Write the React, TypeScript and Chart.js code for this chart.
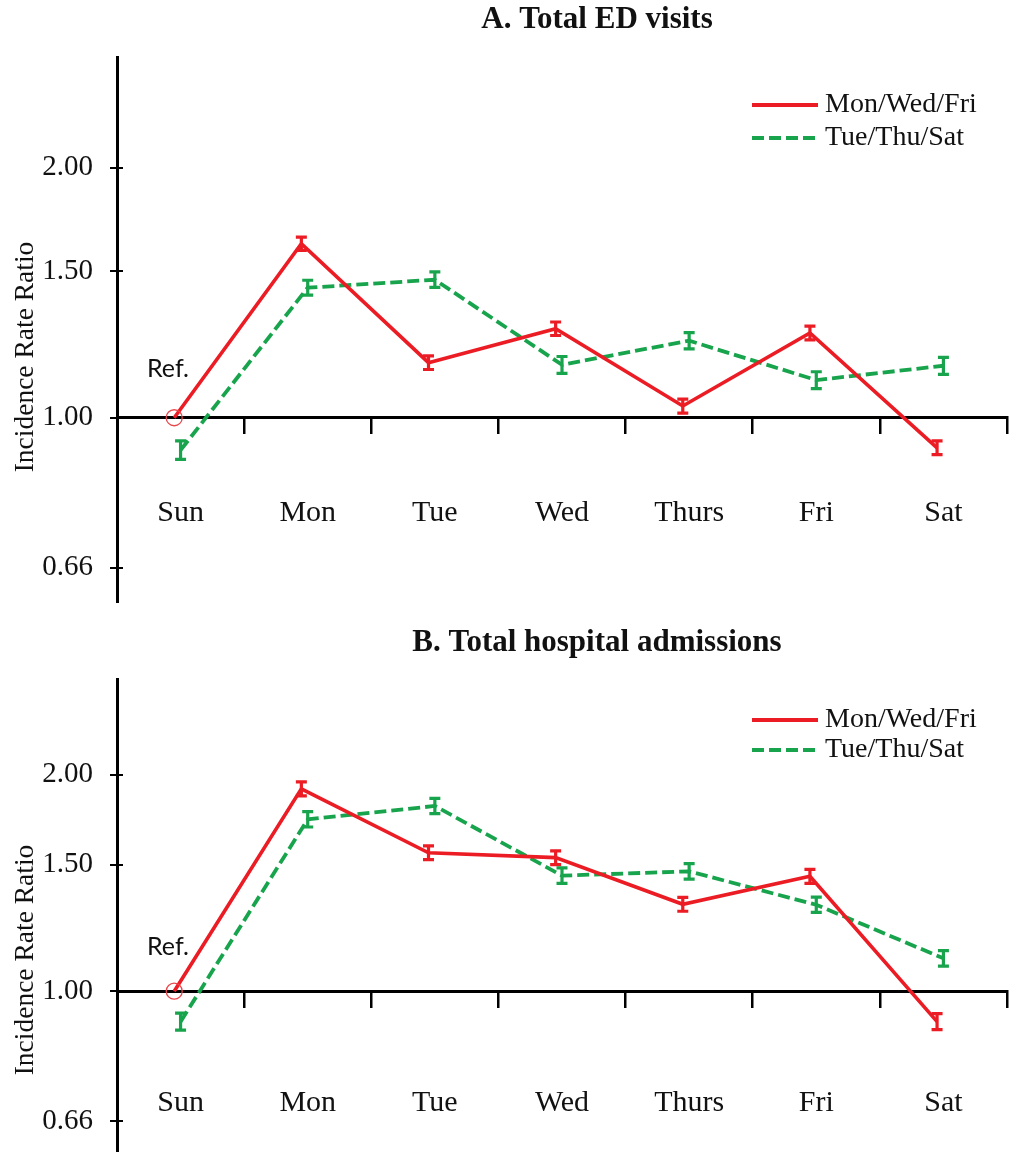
import React, { useEffect, useRef } from 'react';
import { Chart, registerables } from 'chart.js';

Chart.register(...registerables);

// ---------- data ----------
const days = ['Sun', 'Mon', 'Tue', 'Wed', 'Thurs', 'Fri', 'Sat'];
const yTickValues = [0.66, 1.0, 1.5, 2.0];
const seriesNames = ['Mon/Wed/Fri', 'Tue/Thu/Sat'];
const refIndex = 0; // Sunday is the reference day

// Panel A: Total ED visits
const edMWF = [1.0, 1.62, 1.165, 1.28, 1.033, 1.265, 0.92];
const edMWFLow = [null, 1.59, 1.143, 1.256, 1.013, 1.241, 0.903];
const edMWFHigh = [null, 1.65, 1.187, 1.304, 1.053, 1.289, 0.938];
const edTTS = [0.914, 1.434, 1.466, 1.158, 1.238, 1.11, 1.155];
const edTTSLow = [0.891, 1.405, 1.435, 1.131, 1.21, 1.084, 1.128];
const edTTSHigh = [0.938, 1.464, 1.498, 1.185, 1.266, 1.136, 1.182];

// Panel B: Total hospital admissions
const hospMWF = [1.0, 1.912, 1.558, 1.534, 1.321, 1.445, 0.907];
const hospMWFLow = [null, 1.87, 1.524, 1.5, 1.292, 1.413, 0.884];
const hospMWFHigh = [null, 1.955, 1.593, 1.568, 1.351, 1.477, 0.931];
const hospTTS = [0.907, 1.734, 1.81, 1.448, 1.468, 1.319, 1.111];
const hospTTSLow = [0.883, 1.692, 1.766, 1.413, 1.432, 1.287, 1.084];
const hospTTSHigh = [0.932, 1.777, 1.855, 1.484, 1.505, 1.352, 1.139];

// ---------- style ----------
const RED = '#ec1c24';
const RED_LIGHT = '#e8474c';
const GREEN = '#18a44c';
const INK = '#111';
const SERIF = '"Liberation Serif", "Times New Roman", serif';
const RED_SHIFT = -0.05;
const WIDTH = 1019;

type PanelLayout = {
  top: number;
  height: number;
  padTop: number;
  padBottom: number;
  labelPad: number;
  titleY: number;
  legendY: [number, number];
  yTitleY: number;
  refY: number;
};

const layoutA: PanelLayout = {
  top: 0, height: 615, padTop: 57, padBottom: 13, labelPad: 62,
  titleY: 20, legendY: [105, 138], yTitleY: 357, refY: 369,
};
const layoutB: PanelLayout = {
  top: 615, height: 545, padTop: 64, padBottom: 5, labelPad: 79,
  titleY: 28, legendY: [105, 135], yTitleY: 345, refY: 332,
};

type PanelProps = {
  title: string;
  mwf: number[]; mwfLow: (number | null)[]; mwfHigh: (number | null)[];
  tts: number[]; ttsLow: (number | null)[]; ttsHigh: (number | null)[];
  lay: PanelLayout;
};

function makeOverlay(title: string, lows: (number | null)[][], highs: (number | null)[][], lay: PanelLayout) {
  return {
    id: 'overlay',
    afterDatasetsDraw(chart: any) {
      const ctx = chart.ctx as CanvasRenderingContext2D;
      const xs = chart.scales.xl;
      const ys = chart.scales.y;
      ctx.save();
      chart.data.datasets.forEach((ds: any, di: number) => {
        const low = lows[di];
        const high = highs[di];
        ctx.strokeStyle = ds.borderColor;
        ctx.lineWidth = 3.2;
        ctx.setLineDash([]);
        ds.data.forEach((pt: any, i: number) => {
          const lo = low[i];
          const hi = high[i];
          if (lo == null || hi == null) return;
          const x = xs.getPixelForValue(pt.x);
          const y1 = ys.getPixelForValue(lo);
          const y2 = ys.getPixelForValue(hi);
          ctx.beginPath();
          ctx.moveTo(x, y1); ctx.lineTo(x, y2);
          ctx.moveTo(x - 5.5, y1); ctx.lineTo(x + 5.5, y1);
          ctx.moveTo(x - 5.5, y2); ctx.lineTo(x + 5.5, y2);
          ctx.stroke();
        });
      });
      ctx.restore();
    },
    afterDraw(chart: any) {
      const ctx = chart.ctx as CanvasRenderingContext2D;
      const ys = chart.scales.y;
      const area = chart.chartArea;
      ctx.save();
      // inward halves of the y tick marks
      ctx.strokeStyle = '#000';
      ctx.lineWidth = 2;
      yTickValues.forEach((v) => {
        const y = Math.round(ys.getPixelForValue(v));
        ctx.beginPath();
        ctx.moveTo(area.left, y);
        ctx.lineTo(area.left + 6, y);
        ctx.stroke();
      });
      // panel title
      ctx.fillStyle = INK;
      ctx.font = `bold 31px ${SERIF}`;
      ctx.textAlign = 'center';
      ctx.textBaseline = 'middle';
      ctx.fillText(title, 597, lay.titleY);
      // legend
      const colors = [RED, GREEN];
      const dashes = [[], [12, 5]];
      seriesNames.forEach((name, i) => {
        const y = lay.legendY[i];
        ctx.strokeStyle = colors[i];
        ctx.lineWidth = 3.8;
        ctx.setLineDash(dashes[i]);
        ctx.beginPath();
        ctx.moveTo(752, y);
        ctx.lineTo(818, y);
        ctx.stroke();
        ctx.setLineDash([]);
        ctx.fillStyle = INK;
        ctx.font = `28px ${SERIF}`;
        ctx.textAlign = 'left';
        ctx.textBaseline = 'middle';
        ctx.fillText(name, 825, y);
      });
      // y axis title
      ctx.save();
      ctx.translate(26, lay.yTitleY);
      ctx.rotate(-Math.PI / 2);
      ctx.fillStyle = INK;
      ctx.font = `27.5px ${SERIF}`;
      ctx.textAlign = 'center';
      ctx.textBaseline = 'middle';
      ctx.fillText('Incidence Rate Ratio', 0, 0);
      ctx.restore();
      // Ref. annotation
      ctx.fillStyle = INK;
      ctx.font = '25px Lato, "Open Sans", sans-serif';
      ctx.textAlign = 'left';
      ctx.textBaseline = 'middle';
      ctx.fillText('Ref.', 147, lay.refY);
      ctx.restore();
    },
  };
}

function Panel({ title, mwf, mwfLow, mwfHigh, tts, ttsLow, ttsHigh, lay }: PanelProps) {
  const ref = useRef<HTMLCanvasElement | null>(null);
  useEffect(() => {
    if (!ref.current) return;
    const chart = new Chart(ref.current, {
      type: 'line',
      data: {
        labels: days,
        datasets: [
          {
            label: seriesNames[0],
            data: mwf.map((v, i) => ({ x: i + RED_SHIFT, y: v })),
            xAxisID: 'xl',
            yAxisID: 'y',
            borderColor: RED,
            borderWidth: 3.6,
            tension: 0,
            fill: false,
            pointRadius: (c: any) => (c.dataIndex === refIndex ? 8 : 0),
            pointHoverRadius: 0,
            pointBorderColor: RED_LIGHT,
            pointBackgroundColor: 'rgba(0,0,0,0)',
            pointBorderWidth: 1.3,
          } as any,
          {
            label: seriesNames[1],
            data: tts.map((v, i) => ({ x: i, y: v })),
            xAxisID: 'xl',
            yAxisID: 'y',
            borderColor: GREEN,
            borderWidth: 3.8,
            borderDash: [12, 5],
            tension: 0,
            fill: false,
            pointRadius: 0,
            pointHoverRadius: 0,
          } as any,
        ],
      },
      options: {
        animation: false,
        responsive: false,
        events: [],
        layout: { padding: { left: 0, right: 12, top: lay.padTop, bottom: lay.padBottom } },
        plugins: {
          legend: { display: false },
          title: { display: false },
          tooltip: { enabled: false },
        },
        scales: {
          x: {
            type: 'category',
            position: { y: 1 } as any,
            offset: true,
            grid: {
              offset: true,
              drawOnChartArea: false,
              drawTicks: true,
              tickLength: 15,
              color: '#000',
              lineWidth: 2.5,
            },
            border: { display: true, color: '#000', width: 3 },
            ticks: {
              padding: lay.labelPad,
              font: { family: SERIF, size: 30 },
              color: INK,
              maxRotation: 0,
              autoSkip: false,
            },
            afterFit: (s: any) => { s.paddingLeft = 0; s.paddingRight = 0; },
          } as any,
          xl: { type: 'linear', display: false, min: -0.5, max: 6.5 },
          y: {
            type: 'logarithmic',
            min: Math.exp(-0.5),
            max: Math.E,
            afterBuildTicks: (s: any) => { s.ticks = yTickValues.map((v) => ({ value: v })); },
            afterFit: (s: any) => { s.width = 117; s.paddingTop = 0; s.paddingBottom = 0; },
            ticks: {
              callback: (v: any) => Number(v).toFixed(2),
              padding: 17,
              font: { family: SERIF, size: 29 },
              color: INK,
            },
            grid: { drawOnChartArea: false, tickLength: 7, color: '#000', lineWidth: 2 },
            border: { display: true, color: '#000', width: 3 },
          } as any,
        },
      },
      plugins: [makeOverlay(title, [mwfLow, ttsLow], [mwfHigh, ttsHigh], lay)],
    });
    return () => chart.destroy();
  }, []);
  return (
    <canvas
      ref={ref}
      width={WIDTH}
      height={lay.height}
      style={{ position: 'absolute', left: 0, top: lay.top, width: WIDTH, height: lay.height }}
    />
  );
}

export default function App() {
  return (
    <div
      style={{
        position: 'absolute', left: 0, top: 0, width: WIDTH, height: 1152,
        overflow: 'hidden', background: '#fff',
      }}
    >
      <Panel title="A. Total ED visits" mwf={edMWF} mwfLow={edMWFLow} mwfHigh={edMWFHigh}
        tts={edTTS} ttsLow={edTTSLow} ttsHigh={edTTSHigh} lay={layoutA} />
      <Panel title="B. Total hospital admissions" mwf={hospMWF} mwfLow={hospMWFLow} mwfHigh={hospMWFHigh}
        tts={hospTTS} ttsLow={hospTTSLow} ttsHigh={hospTTSHigh} lay={layoutB} />
    </div>
  );
}
